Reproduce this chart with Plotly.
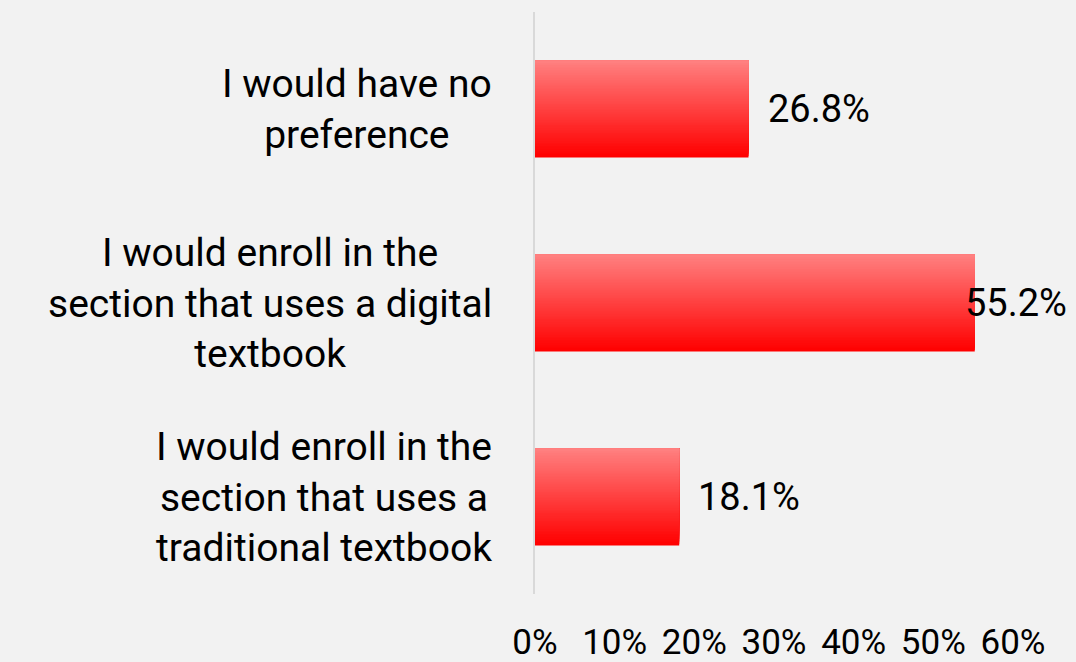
import plotly.graph_objects as go

# Data (top-to-bottom order as displayed)
categories = [
    "I would have no<br>preference",
    "I would enroll in the<br>section that uses a digital<br>textbook",
    "I would enroll in the<br>section that uses a<br>traditional textbook",
]
values = [26.8, 55.2, 18.1]
x_ticks = [0, 10, 20, 30, 40, 50, 60]
x_tick_labels = ["0%", "10%", "20%", "30%", "40%", "50%", "60%"]

FONT = "Roboto, 'Open Sans', sans-serif"
BG = "#f2f2f2"
N_SLICES = 60
BAR_WIDTH = 0.5
TOP_RGB = (255, 128, 128)
BOT_RGB = (255, 0, 0)
label_shift = [17, -12, 17]

fig = go.Figure()

# gradient bars: nested layers, each reaching the bar top; later (lighter) layers drawn on top
sw = BAR_WIDTH / N_SLICES
for i in range(N_SLICES):
    t = i / (N_SLICES - 1)
    r = round(BOT_RGB[0] + (TOP_RGB[0] - BOT_RGB[0]) * t)
    g = round(BOT_RGB[1] + (TOP_RGB[1] - BOT_RGB[1]) * t)
    b = round(BOT_RGB[2] + (TOP_RGB[2] - BOT_RGB[2]) * t)
    start = -BAR_WIDTH / 2 + i * sw
    fig.add_trace(go.Bar(
        x=values,
        y=categories,
        orientation="h",
        width=BAR_WIDTH / 2 - start,
        offset=start,
        marker=dict(color=f"rgb({r},{g},{b})", line=dict(width=0)),
        showlegend=False,
        hoverinfo="skip",
    ))

# category labels (centered multi-line, right-anchored next to axis)
for cat in categories:
    fig.add_annotation(
        x=0, xref="paper", xanchor="right", xshift=-41,
        y=cat, yref="y", yanchor="middle",
        text=cat, showarrow=False, align="center",
        font=dict(family=FONT, size=39, color="#000000"),
    )

# data labels
for cat, v, s in zip(categories, values, label_shift):
    fig.add_annotation(
        x=v, xref="x", xanchor="left", xshift=s,
        y=cat, yref="y", yanchor="middle",
        text=f"{v:.1f}%", showarrow=False,
        font=dict(family=FONT, size=38, color="#000000"),
    )

fig.update_layout(
    width=1076, height=662,
    barmode="overlay",
    paper_bgcolor=BG, plot_bgcolor=BG,
    margin=dict(l=535, r=63, t=12, b=68),
    xaxis=dict(
        range=[0, 60], tickvals=x_ticks, ticktext=x_tick_labels,
        showgrid=False, zeroline=False, showline=False,
        ticks="", ticklabelstandoff=24, automargin=False,
        tickfont=dict(family=FONT, size=35, color="#000000"),
    ),
    yaxis=dict(
        categoryorder="array", categoryarray=categories[::-1],
        range=[-0.5, 2.5], showticklabels=False, showgrid=False,
        zeroline=False, showline=True, linecolor="#d9d9d9", linewidth=2,
        ticks="", automargin=False,
    ),
)

fig.write_html("out.html")
